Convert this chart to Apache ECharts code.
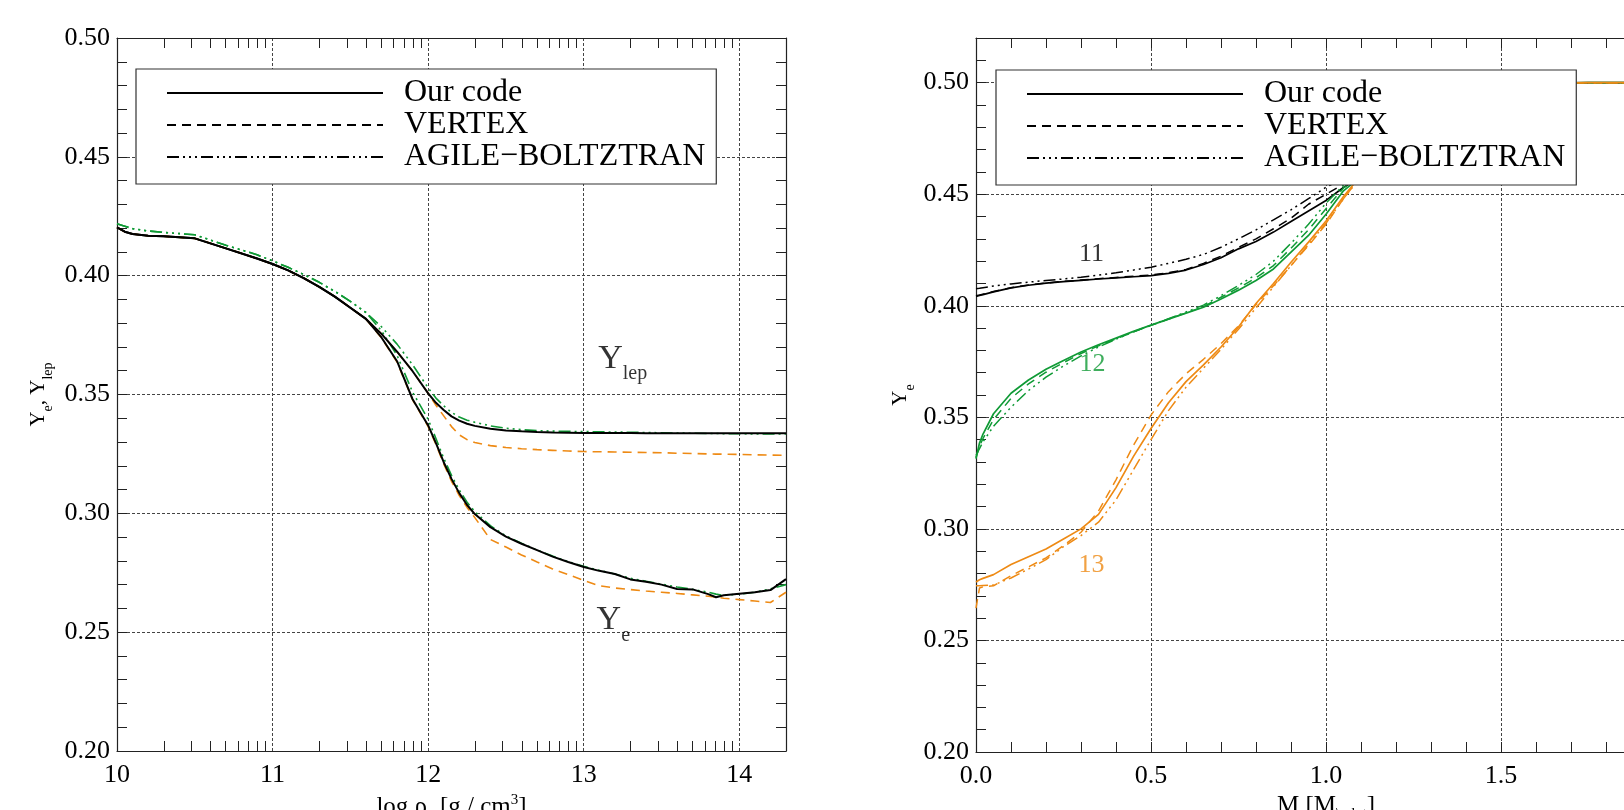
<!DOCTYPE html>
<html>
<head>
<meta charset="utf-8">
<script src="https://cdn.jsdelivr.net/npm/echarts@6/dist/echarts.min.js"></script>
<style>
html,body{margin:0;padding:0;background:#fff;}
#chart{width:1624px;height:810px;}
</style>
</head>
<body>
<div id="chart"></div>
<script>
// ---------------- DATA ----------------
// Left panel: x = log rho_c
const xRho = [10.0, 10.05, 10.1, 10.2, 10.3, 10.5, 10.7, 10.9, 11.0, 11.1, 11.2, 11.3, 11.4, 11.5, 11.6, 11.7, 11.8, 11.9,
  12.0, 12.05, 12.1, 12.15, 12.2, 12.25, 12.3, 12.4, 12.5, 12.6, 12.7, 12.8, 12.9,
  13.0, 13.1, 13.2, 13.3, 13.4, 13.5, 13.6, 13.7, 13.8, 13.85, 13.9, 14.0, 14.1, 14.2, 14.3];

const ylepOur = [0.4203,0.4185,0.4175,0.4168,0.4166,0.4157,0.4115,0.4072,0.4049,0.4022,0.3990,0.3953,0.3912,0.3865,0.3818,0.3755,0.3680,0.3598,
  0.3505,0.3465,0.3435,0.3408,0.3390,0.3377,0.3368,0.3356,0.3349,0.3345,0.3342,0.3340,0.3339,
  0.3338,0.3338,0.3338,0.3338,0.3337,0.3337,0.3337,0.3337,0.3337,0.3337,0.3337,0.3337,0.3337,0.3337,0.3337];
const yeOur = [0.4203,0.4185,0.4175,0.4168,0.4166,0.4157,0.4115,0.4072,0.4049,0.4022,0.3990,0.3953,0.3912,0.3865,0.3818,0.3740,0.3640,0.3480,
  0.3370,0.3295,0.3215,0.3145,0.3085,0.3035,0.2997,0.2942,0.2902,0.2872,0.2845,0.2818,0.2795,
  0.2774,0.2758,0.2745,0.2722,0.2712,0.2700,0.2682,0.2680,0.2660,0.2647,0.2655,0.2662,0.2668,0.2677,0.2723];
const ylepVertex = [0.4203,0.4185,0.4175,0.4168,0.4166,0.4157,0.4115,0.4072,0.4049,0.4022,0.3990,0.3953,0.3912,0.3865,0.3818,0.3755,0.3680,0.3598,
  0.3505,0.3455,0.3410,0.3365,0.3330,0.3310,0.3298,0.3285,0.3277,0.3272,0.3268,0.3265,0.3262,
  0.3260,0.3259,0.3258,0.3257,0.3256,0.3255,0.3253,0.3252,0.3250,0.3249,0.3249,0.3248,0.3246,0.3245,0.3244];
const yeVertex = [0.4203,0.4185,0.4175,0.4168,0.4166,0.4157,0.4115,0.4072,0.4049,0.4022,0.3990,0.3953,0.3912,0.3865,0.3818,0.3738,0.3636,0.3478,
  0.3365,0.3290,0.3208,0.3135,0.3075,0.3025,0.2982,0.2890,0.2858,0.2825,0.2795,0.2766,0.2742,
  0.2718,0.2695,0.2686,0.2679,0.2673,0.2668,0.2663,0.2657,0.2651,0.2647,0.2643,0.2637,0.2631,0.2625,0.2668];
const ylepAgile = [0.4218,0.4208,0.4198,0.4188,0.4182,0.4172,0.4128,0.4088,0.4062,0.4035,0.4005,0.3972,0.3934,0.3892,0.3845,0.3785,0.3712,0.3625,
  0.3528,0.3485,0.3452,0.3425,0.3405,0.3392,0.3383,0.3368,0.3358,0.3352,0.3348,0.3346,0.3345,
  0.3344,0.3343,0.3342,0.3341,0.3340,0.3339,0.3338,0.3337,0.3336,0.3336,0.3335,0.3335,0.3334,0.3334,0.3334];
const yeAgile = [0.4218,0.4208,0.4198,0.4188,0.4182,0.4172,0.4128,0.4088,0.4062,0.4035,0.4005,0.3972,0.3934,0.3892,0.3845,0.3768,0.3665,0.3510,
  0.3395,0.3315,0.3232,0.3160,0.3098,0.3047,0.3007,0.2948,0.2905,0.2874,0.2846,0.2820,0.2797,
  0.2777,0.2760,0.2745,0.2727,0.2714,0.2702,0.2690,0.2680,0.2668,0.2660,0.2655,0.2660,0.2668,0.2682,0.2700];

// Right panel: x = M [Msun]
const xMass = [0, 0.01, 0.02, 0.05, 0.1, 0.15, 0.2, 0.25, 0.3, 0.35, 0.4, 0.45, 0.5, 0.55, 0.6, 0.65, 0.7, 0.75, 0.8, 0.85, 0.9, 0.95, 1.0, 1.05, 1.1, 1.2, 1.3, 1.4, 1.5, 1.75, 2.0];

const m11Our    = [0.4042,0.4046,0.4050,0.4062,0.4080,0.4092,0.4101,0.4108,0.4114,0.4120,0.4125,0.4130,0.4135,0.4145,0.4160,0.4185,0.4215,0.4255,0.4288,0.4330,0.4378,0.4425,0.4472,0.4530,0.4580,0.4700,0.4830,0.4940,0.4995,0.5000,0.5000];
const m11Vertex = [0.4045,0.4048,0.4052,0.4064,0.4081,0.4093,0.4102,0.4109,0.4115,0.4121,0.4127,0.4132,0.4138,0.4148,0.4163,0.4190,0.4222,0.4262,0.4300,0.4345,0.4392,0.4455,0.4500,0.4545,0.4590,0.4705,0.4835,0.4942,0.4995,0.5000,0.5000];
const m11Agile  = [0.4076,0.4078,0.4081,0.4088,0.4098,0.4106,0.4113,0.4120,0.4128,0.4137,0.4148,0.4160,0.4173,0.4190,0.4208,0.4230,0.4262,0.4300,0.4340,0.4385,0.4430,0.4480,0.4531,0.4570,0.4605,0.4715,0.4840,0.4945,0.4996,0.5000,0.5000];

const m12Our    = [0.3315,0.3385,0.3425,0.3516,0.3608,0.3667,0.3715,0.3755,0.3793,0.3825,0.3855,0.3885,0.3913,0.3940,0.3967,0.3993,0.4030,0.4070,0.4113,0.4165,0.4240,0.4315,0.4410,0.4515,0.4580,0.4700,0.4830,0.4940,0.4995,0.5000,0.5000];
const m12Vertex = [0.3320,0.3370,0.3405,0.3490,0.3585,0.3650,0.3702,0.3745,0.3786,0.3820,0.3852,0.3883,0.3912,0.3940,0.3968,0.3996,0.4038,0.4080,0.4125,0.4180,0.4258,0.4340,0.4435,0.4528,0.4585,0.4702,0.4832,0.4940,0.4995,0.5000,0.5000];
const m12Agile  = [0.3330,0.3360,0.3390,0.3460,0.3545,0.3620,0.3680,0.3730,0.3775,0.3815,0.3850,0.3883,0.3913,0.3942,0.3972,0.4003,0.4045,0.4091,0.4140,0.4200,0.4280,0.4365,0.4460,0.4540,0.4590,0.4705,0.4835,0.4942,0.4995,0.5000,0.5000];

const m13Our    = [0.2762,0.2772,0.2778,0.2795,0.2840,0.2875,0.2910,0.2955,0.3000,0.3065,0.3185,0.3325,0.3450,0.3565,0.3660,0.3735,0.3815,0.3905,0.4010,0.4100,0.4195,0.4285,0.4380,0.4490,0.4585,0.4700,0.4830,0.4940,0.4995,0.5000,0.5000];
const m13Vertex = [0.2645,0.2735,0.2740,0.2745,0.2790,0.2830,0.2870,0.2925,0.2985,0.3080,0.3220,0.3375,0.3510,0.3615,0.3695,0.3760,0.3830,0.3910,0.4005,0.4090,0.4180,0.4270,0.4365,0.4480,0.4580,0.4700,0.4830,0.4940,0.4995,0.5000,0.5000];
const m13Agile  = [0.2745,0.2745,0.2746,0.2748,0.2780,0.2820,0.2862,0.2920,0.2970,0.3030,0.3130,0.3265,0.3400,0.3530,0.3635,0.3720,0.3805,0.3895,0.3990,0.4085,0.4180,0.4275,0.4370,0.4480,0.4580,0.4700,0.4830,0.4940,0.4995,0.5000,0.5000];

// Legend entries and annotation labels
const legendNames = ['Our code', 'VERTEX', 'AGILE\u2212BOLTZTRAN'];
const leftTicksX = [10, 11, 12, 13, 14];
const rightTicksX = [0.0, 0.5, 1.0, 1.5, 2.0];
const annLeft = [
  {text: '{y|Y}{s|lep}', pos: [13.25, 0.3651]},
  {text: '{y|Y}{s|e}', pos: [13.19, 0.2550]}
];
const annRight = [
  {text: '11', pos: [0.330, 0.4232], color: 'black'},
  {text: '12', pos: [0.333, 0.3737], color: 'green'},
  {text: '13', pos: [0.330, 0.2837], color: 'orange'}
];

// ---------------- STYLE ----------------
const FONT = 'Liberation Serif';
const COL = {black: '#000000', green: '#0f9a35', orange: '#ee8a14'};
const DASH = {our: 'solid', vertex: [9, 6], agile: [12, 4, 2, 4, 2, 4, 2, 4]};
const AXC = '#222';

// minor tick positions
const logMinor = [];
for (let n = 10; n <= 14; n++) for (let k = 2; k <= 9; k++) { const v = n + Math.log10(k); if (v < 14.3) logMinor.push(v); }
const yMinorL = []; for (let i = 21; i <= 49; i++) yMinorL.push(i / 100);
const yMinorR = []; for (let i = 21; i <= 51; i++) yMinorR.push(i / 100);
const xMinorR = []; for (let i = 1; i <= 19; i++) xMinorR.push(i / 10);

const tickFont = {fontFamily: FONT, fontSize: 26, color: '#000'};
const splitL = {show: true, lineStyle: {type: [3, 2], color: '#444', width: 1}};

function pairs(xs, ys) { return xs.map((x, i) => [x, ys[i]]); }
function lineSeries(name, xs, ys, color, dash, width, xi, yi) {
  return {type: 'line', name: name, data: pairs(xs, ys), xAxisIndex: xi, yAxisIndex: yi,
    symbol: 'none', showSymbol: false, silent: true, z: 2,
    lineStyle: {color: color, width: width, type: dash}, itemStyle: {color: color}};
}
function minorAxis(grid, min, max, pos, values, showLine) {
  return {gridIndex: grid, type: 'value', min: min, max: max, position: pos,
    axisLine: {show: showLine, onZero: false, lineStyle: {color: AXC, width: 1.2}},
    axisTick: {show: true, inside: true, length: 10, customValues: values, lineStyle: {color: AXC, width: 1}},
    axisLabel: {show: false}, splitLine: {show: false}};
}

const series = [];
// dummy series for legends (black)
series.push({type: 'line', name: legendNames[0], data: [], xAxisIndex: 0, yAxisIndex: 0, symbol: 'none', lineStyle: {color: '#000', width: 1.3, type: DASH.our}, itemStyle: {color: '#000'}});
series.push({type: 'line', name: legendNames[1], data: [], xAxisIndex: 0, yAxisIndex: 0, symbol: 'none', lineStyle: {color: '#000', width: 1.3, type: DASH.vertex}, itemStyle: {color: '#000'}});
series.push({type: 'line', name: legendNames[2], data: [], xAxisIndex: 0, yAxisIndex: 0, symbol: 'none', lineStyle: {color: '#000', width: 1.3, type: DASH.agile}, itemStyle: {color: '#000'}});

// left panel
series.push(lineSeries('L-ylep-vertex', xRho, ylepVertex, COL.orange, DASH.vertex, 1.6, 0, 0));
series.push(lineSeries('L-ye-vertex', xRho, yeVertex, COL.orange, DASH.vertex, 1.6, 0, 0));
series.push(lineSeries('L-ylep-agile', xRho, ylepAgile, COL.green, DASH.agile, 1.6, 0, 0));
series.push(lineSeries('L-ye-agile', xRho, yeAgile, COL.green, DASH.agile, 1.6, 0, 0));
series.push(lineSeries('L-ylep-our', xRho, ylepOur, COL.black, DASH.our, 2, 0, 0));
series.push(lineSeries('L-ye-our', xRho, yeOur, COL.black, DASH.our, 2, 0, 0));

// right panel (draw black, green, orange)
const groups = [
  [m11Our, m11Vertex, m11Agile, COL.black],
  [m12Our, m12Vertex, m12Agile, COL.green],
  [m13Our, m13Vertex, m13Agile, COL.orange]
];
groups.forEach((g, gi) => {
  series.push(lineSeries('R' + gi + '-vertex', xMass, g[1], g[3], DASH.vertex, 1.5, 3, 3));
  series.push(lineSeries('R' + gi + '-agile', xMass, g[2], g[3], DASH.agile, 1.5, 3, 3));
  series.push(lineSeries('R' + gi + '-our', xMass, g[0], g[3], DASH.our, 1.7, 3, 3));
});

// annotations
series.push({type: 'scatter', xAxisIndex: 0, yAxisIndex: 0, symbolSize: 0, silent: true, z: 10,
  data: annLeft.map(a => ({value: a.pos, label: {formatter: a.text}})),
  label: {show: true, position: 'inside', color: '#000',
    rich: {y: {fontFamily: FONT, fontSize: 34, lineHeight: 50, color: '#000'},
           s: {fontFamily: FONT, fontSize: 20, lineHeight: 50, verticalAlign: 'bottom', color: '#000'}}}});
series.push({type: 'scatter', xAxisIndex: 3, yAxisIndex: 3, symbolSize: 0, silent: true, z: 10,
  data: annRight.map(a => ({value: a.pos, label: {formatter: a.text, color: COL[a.color]}})),
  label: {show: true, position: 'inside', fontFamily: FONT, fontSize: 26}});

const legendBase = {
  orient: 'vertical', itemWidth: 216, itemHeight: 14, itemGap: 0,
  backgroundColor: '#ffffff', borderColor: '#333', borderWidth: 1.2,
  padding: [8, 11, 11, 30], selectedMode: false,
  itemStyle: {opacity: 0},
  textStyle: {fontFamily: FONT, fontSize: 32, color: '#000', lineHeight: 31, padding: [0, 0, 0, 16]},
  data: legendNames, z: 20
};

const option = {
  animation: false,
  backgroundColor: '#ffffff',
  textStyle: {fontFamily: FONT},
  grid: [
    {left: 117, top: 38, width: 669, height: 713, outerBoundsMode: 'none', containLabel: false},
    {left: 976, top: 38, width: 700, height: 714, outerBoundsMode: 'none', containLabel: false}
  ],
  legend: [
    Object.assign({}, legendBase, {left: 136, top: 69}),
    Object.assign({}, legendBase, {left: 996, top: 70})
  ],
  xAxis: [
    {gridIndex: 0, type: 'value', min: leftTicksX[0], max: 14.3, interval: 1, position: 'bottom',
      axisLine: {show: true, onZero: false, lineStyle: {color: AXC, width: 1.2}},
      axisTick: {show: false},
      axisLabel: Object.assign({margin: 11, showMaxLabel: false, formatter: v => String(Math.round(v))}, tickFont),
      splitLine: splitL,
      name: '{t|log \u03c1}{s|c}{t| [g / cm}{p|3}{t|]}', nameLocation: 'middle', nameGap: 39,
      nameTextStyle: {rich: {
        t: {fontFamily: FONT, fontSize: 25, color: '#000', lineHeight: 30},
        s: {fontFamily: FONT, fontSize: 15, color: '#000', lineHeight: 30, verticalAlign: 'bottom'},
        p: {fontFamily: FONT, fontSize: 15, color: '#000', lineHeight: 30, verticalAlign: 'top'}}}},
    minorAxis(0, 10, 14.3, 'bottom', logMinor, false),
    minorAxis(0, 10, 14.3, 'top', logMinor, true),
    {gridIndex: 1, type: 'value', min: rightTicksX[0], max: 2.0, interval: 0.5, position: 'bottom',
      axisLine: {show: true, onZero: false, lineStyle: {color: AXC, width: 1.2}},
      axisTick: {show: false},
      axisLabel: Object.assign({margin: 11, formatter: v => v.toFixed(1)}, tickFont),
      splitLine: splitL,
      name: '{t|M [M}{s|\\odot}{t|]}', nameLocation: 'middle', nameGap: 39,
      nameTextStyle: {rich: {
        t: {fontFamily: FONT, fontSize: 25, color: '#000', lineHeight: 30},
        s: {fontFamily: FONT, fontSize: 15, color: '#000', lineHeight: 30, verticalAlign: 'bottom'}}}},
    minorAxis(1, 0, 2.0, 'bottom', xMinorR, false),
    minorAxis(1, 0, 2.0, 'top', xMinorR, true)
  ],
  yAxis: [
    {gridIndex: 0, type: 'value', min: 0.2, max: 0.5, interval: 0.05, position: 'left',
      axisLine: {show: true, onZero: false, lineStyle: {color: AXC, width: 1.2}},
      axisTick: {show: false},
      axisLabel: Object.assign({margin: 7, formatter: v => v.toFixed(2)}, tickFont),
      splitLine: splitL,
      name: '{y|Y}{s|e}{y|, Y}{s|lep}', nameLocation: 'middle', nameGap: 62,
      nameTextStyle: {rich: {
        y: {fontFamily: FONT, fontSize: 21, color: '#000', lineHeight: 34},
        s: {fontFamily: FONT, fontSize: 14, color: '#000', lineHeight: 34, verticalAlign: 'bottom'}}}},
    minorAxis(0, 0.2, 0.5, 'left', yMinorL, false),
    minorAxis(0, 0.2, 0.5, 'right', yMinorL, true),
    {gridIndex: 1, type: 'value', min: 0.2, max: 0.52, interval: 0.05, position: 'left',
      axisLine: {show: true, onZero: false, lineStyle: {color: AXC, width: 1.2}},
      axisTick: {show: false},
      axisLabel: Object.assign({margin: 7, showMaxLabel: false, formatter: v => v.toFixed(2)}, tickFont),
      splitLine: splitL,
      name: '{y|Y}{s|e}', nameLocation: 'middle', nameGap: 59,
      nameTextStyle: {rich: {
        y: {fontFamily: FONT, fontSize: 21, color: '#000', lineHeight: 34},
        s: {fontFamily: FONT, fontSize: 14, color: '#000', lineHeight: 34, verticalAlign: 'bottom'}}}},
    minorAxis(1, 0.2, 0.52, 'left', yMinorR, false)
  ],
  series: series
};

const chart = echarts.init(document.getElementById('chart'), null, {renderer: 'canvas'});
chart.setOption(option);
</script>
</body>
</html>
